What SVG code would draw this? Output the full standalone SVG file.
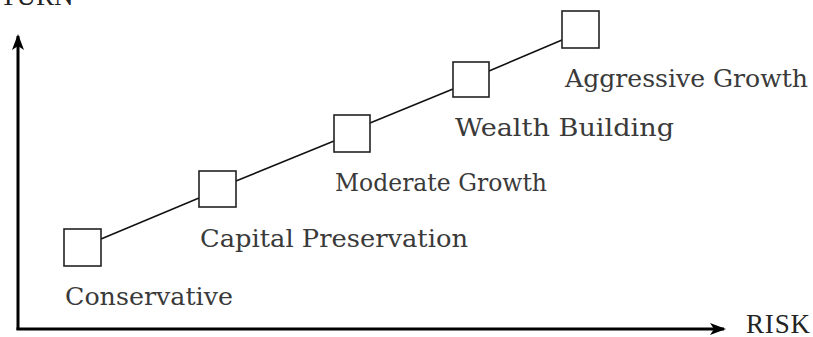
<svg xmlns="http://www.w3.org/2000/svg" width="813" height="337" viewBox="0 0 813 337">
<style>
.box{fill:#fff;stroke:#222;stroke-width:1.6}
.lbl{font-family:"DejaVu Serif","Liberation Serif",serif;font-size:24px;fill:#3a3a3a}
.ax{font-family:"Liberation Serif","DejaVu Serif",serif;font-size:27px;fill:#222}
.link{stroke:#111;stroke-width:1.5;fill:none}
.axis{stroke:#000;stroke-width:3;fill:none}
</style>
<defs>
<marker id="ah" viewBox="0 0 16 14" refX="14" refY="7" markerWidth="16" markerHeight="14" markerUnits="userSpaceOnUse" orient="auto">
<path d="M0,1 L16,7 L0,13 L4,7 Z" fill="#000"/>
</marker>
</defs>
<rect width="813" height="337" fill="#fff"/>
<g id="axes">
<line class="axis" x1="18" y1="330" x2="18" y2="36" marker-end="url(#ah)"/>
<line class="axis" x1="16.5" y1="329" x2="724" y2="329" marker-end="url(#ah)"/>
<text class="ax" x="0" y="5">TURN</text>
<text class="ax" x="746" y="333" textLength="64">RISK</text>
</g>
<g id="connectors">
<line class="link" x1="101" y1="239" x2="199" y2="198"/>
<line class="link" x1="236" y1="181" x2="334" y2="141"/>
<line class="link" x1="370" y1="123" x2="453" y2="89"/>
<line class="link" x1="489" y1="71" x2="562" y2="40"/>
</g>
<g id="conservative">
<rect class="box" x="64" y="229" width="37" height="37"/>
<text class="lbl" x="65" y="305" textLength="168" lengthAdjust="spacingAndGlyphs">Conservative</text>
</g>
<g id="capital-preservation">
<rect class="box" x="199" y="171" width="37" height="36"/>
<text class="lbl" x="200" y="247" textLength="268" lengthAdjust="spacingAndGlyphs">Capital Preservation</text>
</g>
<g id="moderate-growth">
<rect class="box" x="334" y="115" width="36" height="37"/>
<text class="lbl" x="335" y="191" textLength="212" lengthAdjust="spacingAndGlyphs">Moderate Growth</text>
</g>
<g id="wealth-building">
<rect class="box" x="453" y="62" width="36" height="35"/>
<text class="lbl" x="455" y="136" textLength="219" lengthAdjust="spacingAndGlyphs">Wealth Building</text>
</g>
<g id="aggressive-growth">
<rect class="box" x="562" y="11" width="37" height="37"/>
<text class="lbl" x="565" y="87" textLength="243" lengthAdjust="spacingAndGlyphs">Aggressive Growth</text>
</g>
</svg>
